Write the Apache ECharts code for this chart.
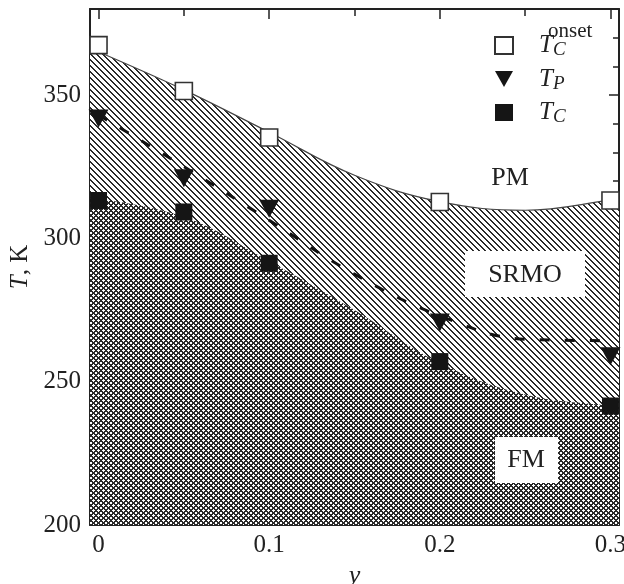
<!DOCTYPE html>
<html>
<head>
<meta charset="utf-8">
<title>T-y phase diagram</title>
<script src="https://cdn.jsdelivr.net/npm/echarts@6/dist/echarts.min.js"></script>
<style>
    html, body { margin: 0; padding: 0; background: #fff; }
    #chart { width: 624px; height: 584px; }
</style>
</head>
<body>
<div id="chart"></div>
<script>
    // measured points
    var yVals = [0, 0.05, 0.1, 0.2, 0.3];
    var tcOnset = [367.4, 351.4, 335.2, 312.7, 313.2];
    var tP = [341.8, 321, 310.3, 270.6, 258.9];
    var tC = [313.2, 309.2, 291.3, 257, 241.5];

    // guide curves
    var curveX = [-0.005, 0.05, 0.1, 0.15, 0.2, 0.25, 0.3, 0.305];
    var onsetCurve = [366.3, 351.8, 337, 322, 312.8, 309.8, 313.3, 314];
    var tcCurve = [314.2, 307.5, 292, 275, 256.5, 245.5, 241.5, 241.3];
    var dashX = [0, 0.05, 0.1, 0.15, 0.2, 0.25, 0.3];
    var tpCurve = [343, 325, 306.3, 287.5, 273, 264.8, 264.3];

    // ticks
    var xMajor = [0, 0.1, 0.2, 0.3];
    var xMinor = [0.05, 0.15, 0.25];
    var yMajor = [200, 250, 300, 350];
    var yMinor = [210, 220, 230, 240, 260, 270, 280, 290, 310, 320, 330, 340, 360, 370];

    var SERIF = '"Liberation Serif", "DejaVu Serif", serif';
    var INK = '#222';

    function zip(xs, ys) {
        var out = [];
        for (var i = 0; i < xs.length; i++) out.push([xs[i], ys[i]]);
        return out;
    }

    // crisp pixel fill patterns: "\" hatch, or cross hatch
    function pattern(cross) {
        var s = cross ? 5 : 6;
        var c = document.createElement('canvas');
        c.width = s; c.height = s;
        var g = c.getContext('2d');
        g.fillStyle = '#fff';
        g.fillRect(0, 0, s, s);
        g.fillStyle = '#2a2a2a';
        for (var j = 0; j < s; j++) {
            for (var i = 0; i < s; i++) {
                var a = ((i - j) % s + s) % s;
                var b = (i + j) % s;
                if (a < 2 || (cross && b < 2)) g.fillRect(i, j, 1, 1);
            }
        }
        return c;
    }

    function xAx(pos, ticks, len, main) {
        return {
            type: 'value', position: pos, min: -0.005, max: 0.305,
            axisLine: { show: main, onZero: false, lineStyle: { color: INK, width: 2 } },
            axisTick: { show: true, inside: true, length: len, customValues: ticks, lineStyle: { color: INK, width: 1.5 } },
            axisLabel: { show: main && pos === 'bottom', customValues: ticks, fontFamily: SERIF, fontSize: 25, color: INK, margin: 8 },
            splitLine: { show: false }
        };
    }
    function yAx(pos, ticks, len, main) {
        return {
            type: 'value', position: pos, min: 200, max: 380,
            axisLine: { show: main, onZero: false, lineStyle: { color: INK, width: 2 } },
            axisTick: { show: true, inside: true, length: len, customValues: ticks, lineStyle: { color: INK, width: 1.5 } },
            axisLabel: { show: main && pos === 'left', customValues: ticks, fontFamily: SERIF, fontSize: 25, color: INK, margin: 9 },
            splitLine: { show: false }
        };
    }

    var xAxes = [xAx('bottom', xMajor, 10, true), xAx('bottom', xMinor, 7, false),
                 xAx('top', xMajor, 10, true), xAx('top', xMinor, 7, false)];
    xAxes[0].name = 'y';
    xAxes[0].nameLocation = 'middle';
    xAxes[0].nameGap = 34;
    xAxes[0].nameTextStyle = { fontFamily: SERIF, fontStyle: 'italic', fontSize: 26, color: INK };

    var yAxes = [yAx('left', yMajor, 10, true), yAx('left', yMinor, 6, false),
                 yAx('right', yMajor, 10, true), yAx('right', yMinor, 6, false)];
    yAxes[0].name = '{i|T}, K';
    yAxes[0].nameLocation = 'middle';
    yAxes[0].nameGap = 53;
    yAxes[0].nameTextStyle = {
        fontFamily: SERIF, fontSize: 25, color: INK,
        rich: { i: { fontFamily: SERIF, fontStyle: 'italic', fontSize: 25, color: INK } }
    };

    var chart = echarts.init(document.getElementById('chart'));
    var option = {
        animation: false,
        backgroundColor: '#fff',
        grid: { left: 90, right: 5, top: 9, bottom: 59, outerBoundsMode: 'none' },
        xAxis: xAxes,
        yAxis: yAxes,
        legend: {
            data: ['onset', 'TP', 'TC'],
            orient: 'vertical',
            left: 489, top: 28,
            itemWidth: 18, itemHeight: 17, itemGap: 7,
            selectedMode: false,
            formatter: function (n) {
                return n === 'TP' ? '{t|T}{s|P}' : '{t|T}{s|C}';
            },
            textStyle: {
                rich: {
                    t: { fontFamily: SERIF, fontStyle: 'italic', fontSize: 25, lineHeight: 28, color: INK, padding: [0, 0, 0, 21] },
                    s: { fontFamily: SERIF, fontStyle: 'italic', fontSize: 19, lineHeight: 14, verticalAlign: 'bottom', color: INK }
                }
            }
        },
        graphic: [
            { type: 'text', z: 100, style: { x: 548, y: 31, text: 'onset', font: '21px ' + SERIF, fill: INK, textVerticalAlign: 'middle' } },
            { type: 'text', z: 100, style: { x: 510, y: 178, text: 'PM', font: '26px ' + SERIF, fill: INK, textAlign: 'center', textVerticalAlign: 'middle' } },
            { type: 'rect', z: 100, shape: { x: 465, y: 251, width: 120, height: 46 }, style: { fill: '#fff' } },
            { type: 'text', z: 101, style: { x: 525, y: 275, text: 'SRMO', font: '26px ' + SERIF, fill: INK, textAlign: 'center', textVerticalAlign: 'middle' } },
            { type: 'rect', z: 100, shape: { x: 495, y: 437, width: 63, height: 46 }, style: { fill: '#fff' } },
            { type: 'text', z: 101, style: { x: 526, y: 460, text: 'FM', font: '26px ' + SERIF, fill: INK, textAlign: 'center', textVerticalAlign: 'middle' } }
        ],
        series: [
            {
                name: 'srmo', type: 'line', data: zip(curveX, onsetCurve), smooth: 0.4,
                showSymbol: false, silent: true, z: 1,
                lineStyle: { color: '#444', width: 1.2 },
                areaStyle: { origin: 'start', opacity: 1, color: { image: pattern(false), repeat: 'repeat' } }
            },
            {
                name: 'fm', type: 'line', data: zip(curveX, tcCurve), smooth: 0.4,
                showSymbol: false, silent: true, z: 2,
                lineStyle: { width: 0 },
                areaStyle: { origin: 'start', opacity: 1, color: { image: pattern(true), repeat: 'repeat' } }
            },
            {
                name: 'tpFit', type: 'line', data: zip(dashX, tpCurve), smooth: 0.4,
                showSymbol: false, silent: true, z: 3,
                lineStyle: { color: '#111', width: 3, type: [10, 15] }
            },
            {
                name: 'onset', type: 'scatter', data: zip(yVals, tcOnset), z: 5,
                symbol: 'rect', symbolSize: 17,
                itemStyle: { color: '#fff', borderColor: '#333', borderWidth: 1.6, opacity: 1 }
            },
            {
                name: 'TP', type: 'scatter', data: zip(yVals, tP), z: 5,
                symbol: 'path://M0,0L20,0L10,18Z', symbolSize: [20, 18],
                itemStyle: { color: '#151515', opacity: 1 }
            },
            {
                name: 'TC', type: 'scatter', data: zip(yVals, tC), z: 5,
                symbol: 'rect', symbolSize: 17,
                itemStyle: { color: '#151515', opacity: 1 }
            }
        ]
    };
    chart.setOption(option);
</script>
</body>
</html>
